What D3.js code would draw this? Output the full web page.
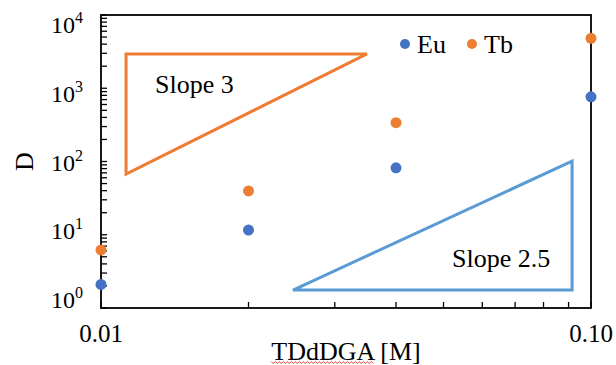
<!DOCTYPE html>
<html>
<head>
<meta charset="utf-8">
<script src="https://cdn.jsdelivr.net/npm/d3@7"></script>
<style>
  body { margin: 0; background: #fff; }
  text { font-family: "Liberation Serif", "Times New Roman", serif; }
</style>
</head>
<body>
<div class="content"></div>
<script>
// data
var conc = [0.01, 0.02, 0.04, 0.10];
var euD = [2.1, 11.6, 82, 765];
var tbD = [6.2, 39.6, 339, 4800];
var xTickLabels = [0.01, 0.10];
var yTickLabels = [1, 10, 100, 1000, 10000];
// slope guide triangles (data coords)
var slope3 = [[0.01125, 2940], [0.0349, 2940], [0.01125, 67.5]];
var slope25 = [[0.02465, 1.76], [0.0915, 1.76], [0.0915, 101]];

var W = 616, H = 365;
var pLeft = 101, pRight = 591, pTop = 15, pBottom = 308;

var svg = d3.select('.content').append('svg')
    .attr('width', W).attr('height', H);

var x = d3.scaleLog().domain([0.01, 0.1]).range([pLeft, pRight]);
var y = d3.scaleLog().domain([1, 10000]).range([pBottom, pTop]);
// excel spreads the y labels slightly differently from its ticks
var yLab = d3.scaleLog().domain([1, 10000]).range([300, 25]);

var blue = '#4472C4', orange = '#ED7D31';

// frame
svg.append('rect')
    .attr('x', pLeft).attr('y', pTop)
    .attr('width', pRight - pLeft).attr('height', pBottom - pTop)
    .attr('fill', 'none').attr('stroke', '#000').attr('stroke-width', 1.8);

// y minor/major ticks, inward
var yTicks = [];
for (var e = 0; e < 4; e++) {
    for (var m = 1; m < 10; m++) yTicks.push(m * Math.pow(10, e));
}
yTicks.push(10000);
svg.append('g').selectAll('line').data(yTicks).enter().append('line')
    .attr('x1', pLeft).attr('x2', pLeft + 6)
    .attr('y1', function(d) { return y(d); })
    .attr('y2', function(d) { return y(d); })
    .attr('stroke', '#000').attr('stroke-width', 1.3);

// x minor ticks, inward
var xTicks = [];
for (var k = 1; k <= 10; k++) xTicks.push(k * 0.01);
svg.append('g').selectAll('line').data(xTicks).enter().append('line')
    .attr('x1', function(d) { return x(d); })
    .attr('x2', function(d) { return x(d); })
    .attr('y1', pBottom).attr('y2', pBottom - 6)
    .attr('stroke', '#000').attr('stroke-width', 1.3);

// y labels 10^n
var yl = svg.append('g').selectAll('text').data(yTickLabels).enter().append('text')
    .attr('x', 83).attr('y', function(d) { return yLab(d) + 8; })
    .attr('text-anchor', 'end')
    .attr('font-size', 24);
yl.append('tspan').text('10');
yl.append('tspan').attr('dy', -10).attr('font-size', 16)
    .text(function(d) { return Math.round(Math.log10(d)); });

// x labels
svg.append('g').selectAll('text').data(xTickLabels).enter().append('text')
    .attr('x', function(d) { return x(d); })
    .attr('y', 342)
    .attr('text-anchor', 'middle')
    .attr('font-size', 25)
    .text(function(d) { return d.toFixed(2); });

// axis titles
var xt = svg.append('text')
    .attr('x', (pLeft + pRight) / 2).attr('y', 360)
    .attr('text-anchor', 'middle').attr('font-size', 26)
    .text('TDdDGA [M]');
svg.append('text')
    .attr('transform', 'translate(33,' + ((pTop + pBottom) / 2) + ') rotate(-90)')
    .attr('text-anchor', 'middle').attr('font-size', 26)
    .text('D');

// spell-check squiggle under TDdDGA
var bb = xt.node().getBBox();
var sqW = xt.node().getSubStringLength(0, 6);
var pts = [];
for (var i = 0; i <= sqW; i += 2) pts.push([bb.x + i, 362.5 + ((i / 2) % 2 ? 1 : -1)]);
svg.append('path')
    .attr('d', d3.line()(pts))
    .attr('fill', 'none').attr('stroke', '#e03030').attr('stroke-width', 0.9);

// slope triangles
var tri = d3.line()
    .x(function(d) { return x(d[0]); })
    .y(function(d) { return y(d[1]); })
    .curve(d3.curveLinearClosed);
svg.append('path').attr('d', tri(slope3))
    .attr('fill', 'none').attr('stroke', orange).attr('stroke-width', 3);
svg.append('path').attr('d', tri(slope25))
    .attr('fill', 'none').attr('stroke', '#5B9BD5').attr('stroke-width', 3);

svg.append('text').attr('x', 155).attr('y', 93)
    .attr('font-size', 26).text('Slope 3');
svg.append('text').attr('x', 452).attr('y', 267)
    .attr('font-size', 26).text('Slope 2.5');

// points
svg.append('g').selectAll('circle').data(conc).enter().append('circle')
    .attr('cx', function(d) { return x(d); })
    .attr('cy', function(d, i) { return y(tbD[i]); })
    .attr('r', 5.5).attr('fill', orange);
svg.append('g').selectAll('circle').data(conc).enter().append('circle')
    .attr('cx', function(d) { return x(d); })
    .attr('cy', function(d, i) { return y(euD[i]); })
    .attr('r', 5.5).attr('fill', blue);

// legend
var legend = [{ name: 'Eu', color: blue, x: 405 }, { name: 'Tb', color: orange, x: 472 }];
var lg = svg.append('g').selectAll('g').data(legend).enter().append('g');
lg.append('circle')
    .attr('cx', function(d) { return d.x; }).attr('cy', 44)
    .attr('r', 5).attr('fill', function(d) { return d.color; });
lg.append('text')
    .attr('x', function(d) { return d.x + 12; }).attr('y', 53)
    .attr('font-size', 26)
    .text(function(d) { return d.name; });
</script>
</body>
</html>
